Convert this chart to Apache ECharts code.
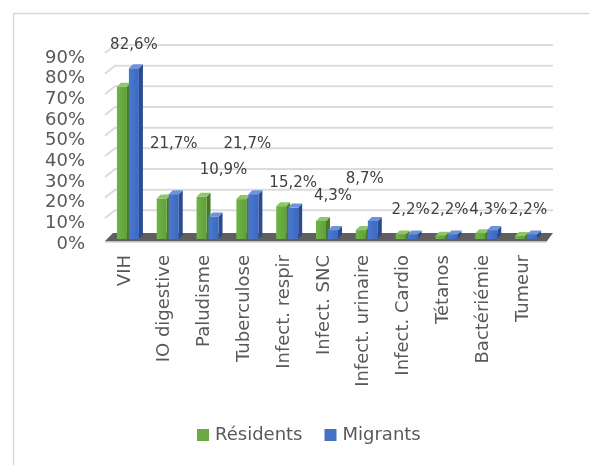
<!DOCTYPE html>
<html><head><meta charset="utf-8">
<script src="https://cdn.jsdelivr.net/npm/echarts@6/dist/echarts.min.js"></script>
<style>html,body{margin:0;padding:0;background:#fff}#c{width:589px;height:465px}</style>
</head><body><div id="c"></div>
<script>
const categories = ['VIH','IO digestive','Paludisme','Tuberculose','Infect. respir','Infect. SNC','Infect. urinaire','Infect. Cardio','Tétanos','Bactériémie','Tumeur'];
const residents = [73.7, 19.6, 20.4, 19.3, 15.9, 8.7, 4.3, 2.2, 1.6, 2.8, 1.5];
const migrants  = [82.6, 21.7, 10.9, 21.7, 15.2, 4.3, 8.7, 2.2, 2.2, 4.3, 2.2];
const migrantLabels = ['82,6%','21,7%','10,9%','21,7%','15,2%','4,3%','8,7%','2,2%','2,2%','4,3%','2,2%'];
const yTicks = [10, 20, 30, 40, 50, 60, 70, 80, 90];

// label placement (pixel offsets relative to the top of each Migrants bar)
const labelLift  = [23, 50, 46, 50, 24, 34, 42, 24, 24, 20, 24];
const labelShift = [0, 0, 10, -6, 0, 0, -8, -2, -3, -4, -4];

const FONT = 'DejaVu Sans';
const D = 4;

function barRenderer(which, cFront, cSide, cTop, withLabel) {
  return function (params, api) {
    const i = api.value(0), v = api.value(1);
    const top = api.coord([i, v]);
    const base = api.coord([i, 0]);
    const cx = top[0];
    const x0 = which === 0 ? cx - 12 : cx;
    const x1 = x0 + 10;
    const yt = top[1], yb = base[1];
    const children = [
      { type: 'polygon', shape: { points: [[x1, yt], [x1 + D, yt - D], [x1 + D, yb - D], [x1, yb]] }, style: { fill: cSide } },
      { type: 'rect', shape: { x: x0, y: yt, width: x1 - x0, height: yb - yt },
        style: { fill: new echarts.graphic.LinearGradient(0, 0, 1, 0, [{ offset: 0, color: cFront[0] }, { offset: 1, color: cFront[1] }]) } },
      { type: 'polygon', shape: { points: [[x0, yt], [x1, yt], [x1 + D, yt - D], [x0 + D, yt - D]] }, style: { fill: cTop } }
    ];
    if (withLabel) {
      children.push({ type: 'text', x: (x0 + x1) / 2 + labelShift[i], y: yt - labelLift[i],
        style: { text: migrantLabels[i], fill: '#404040', font: '15px "' + FONT + '"', align: 'center', verticalAlign: 'middle' } });
    }
    return { type: 'group', children: children };
  };
}

function gridRenderer(params, api) {
  const cs = params.coordSys;
  const t = api.value(1);
  const p = api.coord([0, t]);
  const L = cs.x, R = cs.x + cs.width;
  return { type: 'polyline', shape: { points: [[L - 4, p[1]], [L + 6, p[1] - 8], [R + 6, p[1] - 8]] },
    style: { stroke: '#dcdcdc', lineWidth: 2, fill: null } };
}

function floorRenderer(params, api) {
  const cs = params.coordSys;
  const p = api.coord([0, 0]);
  const L = cs.x, R = cs.x + cs.width, y = p[1];
  return { type: 'group', children: [
    { type: 'polygon', shape: { points: [[L - 4, y + 2], [R, y + 2], [R + 6, y - 6], [L + 4, y - 6]] }, style: { fill: '#5f5f5f' } },
    { type: 'polygon', shape: { points: [[L - 4, y + 2], [R, y + 2], [R, y + 3.5], [L - 4, y + 3.5]] }, style: { fill: '#bfbfbf' } }
  ] };
}

const chart = echarts.init(document.getElementById('c'));
chart.setOption({
  animation: false,
  backgroundColor: '#ffffff',
  textStyle: { fontFamily: FONT },
  graphic: [
    { type: 'polyline', shape: { points: [[13.5, 470], [13.5, 13.5], [595, 13.5]] }, style: { stroke: '#d9d9d9', lineWidth: 1.5, fill: null } }
  ],
  grid: { left: 109, right: 42, top: 53, bottom: 226 },
  legend: {
    data: ['Résidents', 'Migrants'], top: 421, left: 192, icon: 'rect',
    itemWidth: 12, itemHeight: 12, itemGap: 22,
    textStyle: { fontSize: 18, color: '#595959', fontFamily: FONT, padding: [0, 0, 0, 1] }
  },
  xAxis: {
    type: 'category', data: categories,
    axisLine: { show: false }, axisTick: { show: false },
    axisLabel: { rotate: 90, margin: 16, fontSize: 18, color: '#595959', fontFamily: FONT, interval: 0,
      verticalAlign: 'bottom', lineHeight: 8 }
  },
  yAxis: {
    type: 'value', min: 0, max: 90, interval: 10,
    axisLine: { show: false }, axisTick: { show: false }, splitLine: { show: false },
    axisLabel: { formatter: '{value}%', margin: 24, fontSize: 18, color: '#595959', fontFamily: FONT,
      verticalAlign: 'top', lineHeight: 10 }
  },
  series: [
    { type: 'custom', name: 'grid', silent: true, z: 1, renderItem: gridRenderer, data: yTicks.map(t => [0, t]), encode: { x: 0, y: 1 } },
    { type: 'custom', name: 'floor', silent: true, z: 2, renderItem: floorRenderer, data: [[0, 0]], encode: { x: 0, y: 1 } },
    { type: 'custom', name: 'Résidents', z: 3, itemStyle: { color: '#6aab42' },
      renderItem: barRenderer(0, ['#6fb446', '#60a03a'], '#467a27', '#8cc768', false),
      data: residents.map((v, i) => [i, v]), encode: { x: 0, y: 1 } },
    { type: 'custom', name: 'Migrants', z: 4, itemStyle: { color: '#4472c4' },
      renderItem: barRenderer(1, ['#4a78d2', '#3d68bd'], '#294b8f', '#6d93dc', true),
      data: migrants.map((v, i) => [i, v]), encode: { x: 0, y: 1 } }
  ]
});
</script>
</body></html>
